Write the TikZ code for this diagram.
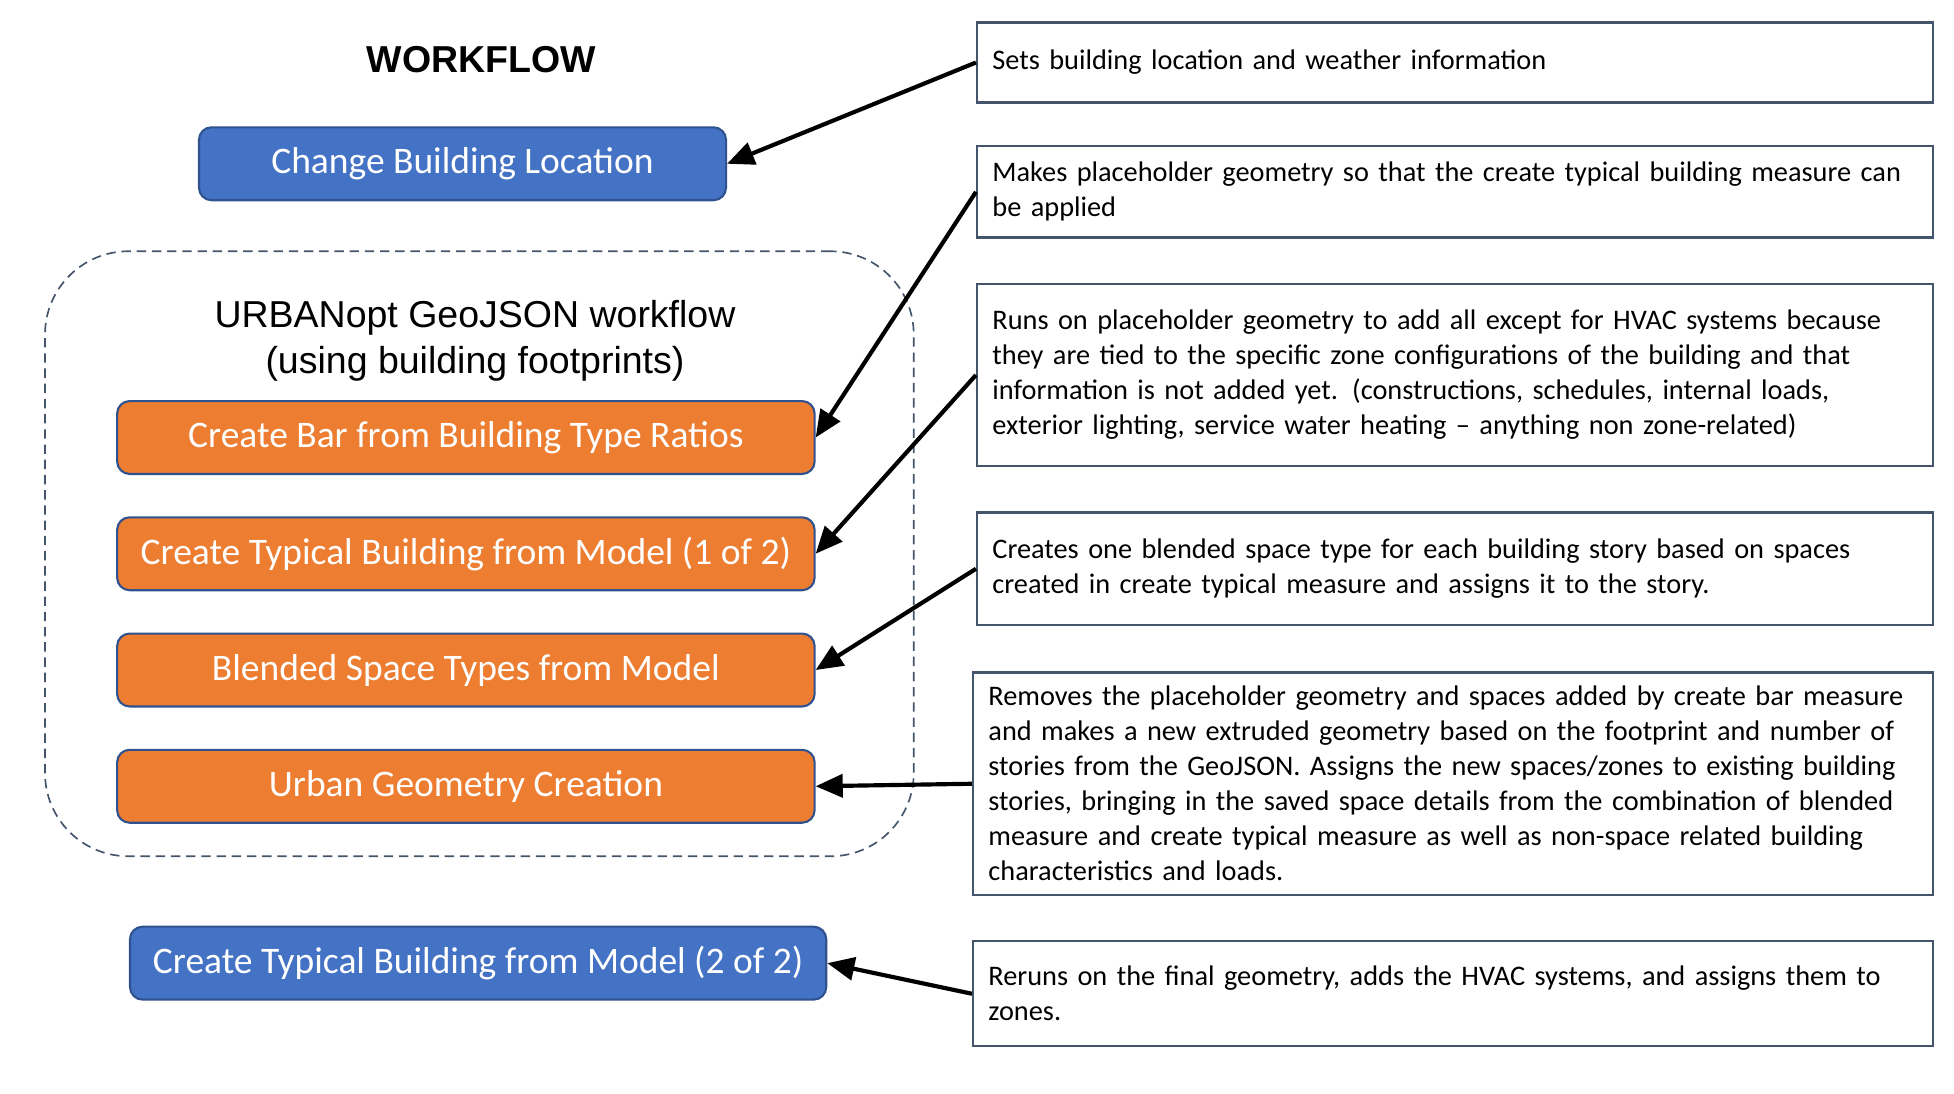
\documentclass[tikz,border=0pt]{standalone}
\usepackage{fontspec}
\setmainfont{Carlito}
\newfontfamily\arialfont{Liberation Sans}
\usetikzlibrary{positioning, arrows.meta}

\definecolor{stepblue}{HTML}{4472C4}
\definecolor{steporange}{HTML}{ED7D31}
\definecolor{edgeblue}{HTML}{2F528F}
\definecolor{slate}{HTML}{44546A}
\hyphenpenalty=10000

\begin{document}
\begin{tikzpicture}[x=0.6pt, y=0.6pt, node distance = 19.8pt,
    measure/.style={draw=edgeblue, line width=1pt, rounded corners=6pt,
        minimum width=334.8pt, minimum height=35pt, inner sep=0pt,
        text=white, font=\fontsize{18}{21.6}\selectfont},
    bluemeasure/.style={measure, fill=stepblue},
    orangemeasure/.style={measure, fill=steporange},
    note/.style={draw=slate, line width=1pt, inner xsep=0pt, inner ysep=0pt,
        text width=444.1pt, minimum width=458.9pt, align=left,
        font=\fontsize{13.6}{16.8}\selectfont},
    wide/.style={text width=446pt, minimum width=460.8pt},
    wire/.style={-{Triangle[length=13pt,width=11pt]}, line width=2pt}]
        \useasboundingbox (0,0) rectangle (1563.2,-874.4);
        % titles
        \node (wf) at (385,-48) {\arialfont\bfseries\fontsize{18}{21.6}\selectfont WORKFLOW};
        \node (grp) [draw=slate, line width=0.8pt, dash pattern=on 4.5pt off 2.8pt,
            rounded corners=40pt, minimum width=417pt, minimum height=290.4pt]
            at (383.5,-443) {};
        \node (gt) [align=center, font=\arialfont\fontsize{18}{22.2}\selectfont]
            at (380,-272.5) {URBANopt GeoJSON workflow\\(using building footprints)};
        % measures
        \node (loc) [bluemeasure, minimum width=253pt] at (370,-131) {Change Building Location};
        \node (bar) [orangemeasure] at (372.7,-350) {Create Bar from Building Type Ratios};
        \node (typ1) [orangemeasure, below=of bar] {Create Typical Building from Model (1 of 2)};
        \node (blend) [orangemeasure, below=of typ1] {Blended Space Types from Model};
        \node (urban) [orangemeasure, below=of blend] {Urban Geometry Creation};
        \node (typ2) [bluemeasure, minimum width=334.2pt] at (382.5,-770.5)
            {Create Typical Building from Model (2 of 2)};
        % notes
        \node (n1) [note, minimum height=38.4pt] at (1164,-50)
            {Sets building location and weather information};
        \node (n2) [note, minimum height=43.8pt] at (1164,-153.5)
            {Makes placeholder geometry so that the create typical building measure can\\
             be applied};
        \node (n3) [note, minimum height=87.6pt] at (1164,-300)
            {Runs on placeholder geometry to add all except for HVAC systems because\\
             they are tied to the specific zone configurations of the building and that\\
             information is not added yet. (constructions, schedules, internal loads,\\
             exterior lighting, service water heating -- anything non zone-related)};
        \node (n4) [note, minimum height=54pt] at (1164,-455)
            {Creates one blended space type for each building story based on spaces\\
             created in create typical measure and assigns it to the story.};
        \node (n5) [note, wide, minimum height=106.8pt] at (1162.4,-627)
            {Removes the placeholder geometry and spaces added by create bar measure\\
             and makes a new extruded geometry based on the footprint and number of\\
             stories from the GeoJSON. Assigns the new spaces/zones to existing building\\
             stories, bringing in the saved space details from the combination of blended\\
             measure and create typical measure as well as non-space related building\\
             characteristics and loads.};
        \node (n6) [note, wide, minimum height=50.4pt] at (1162.4,-795)
            {Reruns on the final geometry, adds the HVAC systems, and assigns them to\\
             zones.};
        % arrows
        \foreach \n/\m in {n1/loc, n2/bar, n3/typ1, n4/blend, n5/urban, n6/typ2}
            \draw[wire] (\n.west) -- (\m.east);
        %
\end{tikzpicture}
\end{document}
